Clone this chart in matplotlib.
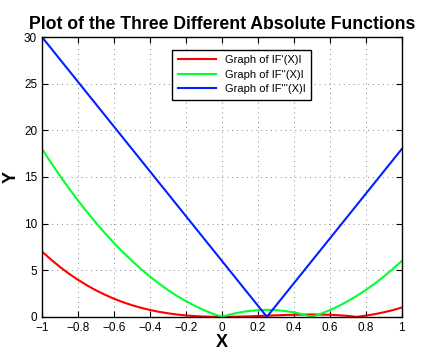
import numpy as np
import matplotlib
matplotlib.use("Agg")
import matplotlib.pyplot as plt

plt.rcParams['font.family'] = ['Liberation Sans', 'DejaVu Sans']

# sample points along x
x = [-1.0, -0.95, -0.9, -0.85, -0.8, -0.75, -0.7, -0.65, -0.6, -0.55, -0.5,
     -0.45, -0.4, -0.35, -0.3, -0.25, -0.2, -0.15, -0.1, -0.05, 0.0,
     0.05, 0.1, 0.15, 0.2, 0.25, 0.3, 0.35, 0.4, 0.45, 0.5,
     0.55, 0.6, 0.65, 0.7, 0.75, 0.8, 0.85, 0.9, 0.95, 1.0]

# |F'(x)|
f1 = [7.0, 6.14, 5.35, 4.62, 3.97, 3.38, 2.84, 2.37, 1.94, 1.57, 1.25,
      0.97, 0.74, 0.54, 0.38, 0.25, 0.15, 0.08, 0.03, 0.01, 0.0,
      0.01, 0.03, 0.05, 0.09, 0.13, 0.16, 0.2, 0.22, 0.24, 0.25,
      0.24, 0.22, 0.17, 0.1, 0.0, 0.13, 0.29, 0.49, 0.72, 1.0]

# |F''(x)|
f2 = [18.0, 16.53, 15.12, 13.77, 12.48, 11.25, 10.08, 8.97, 7.92, 6.93, 6.0,
      5.13, 4.32, 3.57, 2.88, 2.25, 1.68, 1.17, 0.72, 0.33, 0.0,
      0.27, 0.48, 0.63, 0.72, 0.75, 0.72, 0.63, 0.48, 0.27, 0.0,
      0.33, 0.72, 1.17, 1.68, 2.25, 2.88, 3.57, 4.32, 5.13, 6.0]

# |F'''(x)|
f3 = [30.0, 28.8, 27.6, 26.4, 25.2, 24.0, 22.8, 21.6, 20.4, 19.2, 18.0,
      16.8, 15.6, 14.4, 13.2, 12.0, 10.8, 9.6, 8.4, 7.2, 6.0,
      4.8, 3.6, 2.4, 1.2, 0.0, 1.2, 2.4, 3.6, 4.8, 6.0,
      7.2, 8.4, 9.6, 10.8, 12.0, 13.2, 14.4, 15.6, 16.8, 18.0]

labels = ["Graph of IF'(X)I", "Graph of IF''(X)I", "Graph of IF'''(X)I"]
colors = ['#ff0000', '#00ff33', '#0022ff']

fig = plt.figure(figsize=(4.33, 3.56), dpi=100)
ax = fig.add_axes([0.097, 0.110, 0.831, 0.786])

for ys, lab, col in zip([f1, f2, f3], labels, colors):
    ax.plot(x, ys, color=col, lw=1.5, label=lab)

ax.set_xlim(-1, 1)
ax.set_ylim(0, 30)
ax.set_xticks(np.arange(-1, 1.01, 0.2))
ax.set_xticklabels(['\u22121', '\u22120.8', '\u22120.6', '\u22120.4', '\u22120.2',
                    '0', '0.2', '0.4', '0.6', '0.8', '1'])
ax.set_yticks(range(0, 31, 5))
ax.tick_params(direction='in', top=True, right=True, labelsize=8.5, length=4, width=0.8)
ax.grid(True, linestyle=(0, (1, 4)), color='#888888', lw=0.7)
for s in ax.spines.values():
    s.set_linewidth(1.0)

ax.set_title('Plot of the Three Different Absolute Functions', fontsize=12.7,
             fontweight='bold', pad=6)
ax.set_xlabel('X', fontsize=13, fontweight='bold', labelpad=0)
ax.set_ylabel('Y', fontsize=13, fontweight='bold', labelpad=3)

leg = ax.legend(loc='upper center', bbox_to_anchor=(0.555, 0.975), fontsize=8,
                fancybox=False, framealpha=1, edgecolor='black',
                handlelength=3.4, borderpad=0.5, labelspacing=0.4)
leg.get_frame().set_linewidth(1.0)

fig.savefig('out.png', dpi=100)
